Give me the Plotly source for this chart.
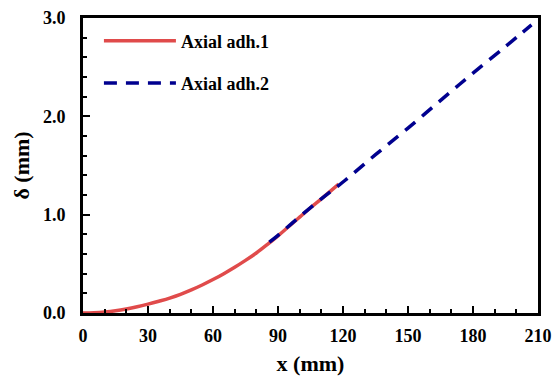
import plotly.graph_objects as go

# Axial adh.1 (solid red)
x1 = [0, 5, 10, 15, 20, 25, 30, 35, 40, 45, 50, 55, 60, 65, 70, 75, 80, 85, 90, 95, 100, 105, 110, 118]
y1 = [0.0, 0.003, 0.01, 0.022, 0.04, 0.063, 0.09, 0.12, 0.152, 0.19, 0.235, 0.285, 0.34, 0.40, 0.465, 0.535, 0.61, 0.695, 0.785, 0.88, 0.975, 1.07, 1.16, 1.31]
# Axial adh.2 (dashed blue)
x2 = [86, 90, 100, 110, 121, 135, 150, 166, 180, 195, 207]
y2 = [0.72, 0.79, 0.98, 1.16, 1.35, 1.61, 1.88, 2.18, 2.44, 2.71, 2.93]

xticks = [0, 30, 60, 90, 120, 150, 180, 210]
yticks = [0.0, 1.0, 2.0, 3.0]
ytick_labels = ["0.0", "1.0", "2.0", "3.0"]

font_family = "Liberation Serif"

fig = go.Figure()
fig.add_trace(go.Scatter(x=x1, y=y1, mode="lines", name="<b>Axial adh.1</b>", legendgroup="a",
                         line=dict(color="#E04B4B", width=3.5, shape="spline", smoothing=1.0)))
fig.add_trace(go.Scatter(x=x2, y=y2, mode="lines", name="<b>Axial adh.2</b>", legendgroup="b",
                         line=dict(color="#00008F", width=3.5, dash="13px,9px", shape="spline", smoothing=1.0)))

axis_common = dict(showline=True, linecolor="black", linewidth=3, mirror=True,
                   ticks="inside", ticklen=7, tickwidth=2, tickcolor="black",
                   showgrid=False, zeroline=False, automargin=False,
                   tickfont=dict(family=font_family, size=18, color="black"))

fig.update_xaxes(range=[0, 210], tickvals=xticks, ticktext=[f"<b>{v}</b>" for v in xticks],
                 ticklabelstandoff=4,
                 minor=dict(dtick=10, ticks="inside", ticklen=4, tickwidth=2, tickcolor="black"),
                 title=dict(text="<b>x (mm)</b>", font=dict(family=font_family, size=22, color="black"), standoff=12),
                 **axis_common)
fig.update_yaxes(range=[0, 3], tickvals=yticks, ticktext=[f"<b>{t}</b>" for t in ytick_labels],
                 ticklabelstandoff=11,
                 minor=dict(dtick=0.2, ticks="inside", ticklen=4, tickwidth=2, tickcolor="black"),
                 title=dict(text="<b>δ (mm)</b>", font=dict(family=font_family, size=22, color="black"), standoff=8),
                 **axis_common)

fig.update_layout(width=552, height=378,
                  margin=dict(l=83, r=14, t=18, b=65),
                  plot_bgcolor="white", paper_bgcolor="white",
                  showlegend=True,
                  legend=dict(x=0.035, y=0.985, xanchor="left", yanchor="top",
                              bgcolor="rgba(0,0,0,0)", font=dict(family=font_family, size=18, color="black"),
                              itemwidth=72, tracegroupgap=16))

fig.write_html("out.html", config={"displayModeBar": False},
               post_script="document.body.style.margin='0';document.body.style.padding='0';")
